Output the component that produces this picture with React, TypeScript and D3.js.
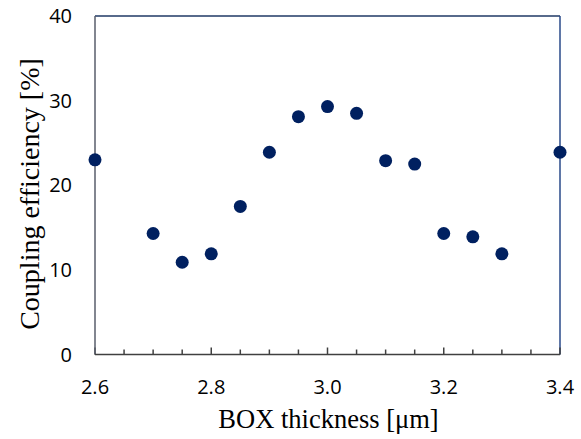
import React from "react";
import * as d3 from "d3";

const thickness = [2.6, 2.7, 2.75, 2.8, 2.85, 2.9, 2.95, 3.0, 3.05, 3.1, 3.15, 3.2, 3.25, 3.3, 3.4];
const efficiency = [23.0, 14.3, 10.9, 11.9, 17.5, 23.9, 28.1, 29.3, 28.5, 22.9, 22.5, 14.3, 13.9, 11.9, 23.9];
const xTicks = [2.6, 2.8, 3.0, 3.2, 3.4];
const yTicks = [0, 10, 20, 30, 40];

const W = 581, H = 439;
const m = { left: 95, right: 560, top: 16, bottom: 354.5 };

export default function App() {
  const x = d3.scaleLinear().domain([2.6, 3.4]).range([m.left, m.right]);
  const y = d3.scaleLinear().domain([0, 40]).range([m.bottom, m.top]);
  const minor = d3.range(0, 17).map((i) => 2.6 + i * 0.05);
  const tickFont = "'Open Sans', sans-serif";
  const titleFont = "'Liberation Serif', 'Times New Roman', serif";
  return (
    <svg width={W} height={H} style={{ position: "absolute", left: 0, top: 0, background: "#fff" }}>
      {/* top & right border */}
      <line x1={m.left} x2={m.right} y1={m.top} y2={m.top} stroke="#1f3864" strokeWidth={1.5} />
      <line x1={m.right} x2={m.right} y1={m.top} y2={m.bottom} stroke="#2a4a8a" strokeWidth={1.5} />
      {/* ticks */}
      {minor.map((t, i) => {
        const major = i % 4 === 0;
        return (
          <line key={i} x1={x(t)} x2={x(t)} y1={m.bottom} y2={m.bottom - (major ? 7 : 5)} stroke="#404040" strokeWidth={1.5} />
        );
      })}
      {/* axes */}
      <line x1={m.left} x2={m.left} y1={m.top} y2={m.bottom} stroke="#595e6b" strokeWidth={1.5} />
      <line x1={m.left} x2={m.right} y1={m.bottom} y2={m.bottom} stroke="#404040" strokeWidth={1.5} />
      {yTicks.map((t) => (
        <text key={t} x={72} y={y(t)} dy="0.35em" textAnchor="end" fontFamily={tickFont} fontSize={20} fill="#000">
          {t}
        </text>
      ))}
      {xTicks.map((t) => (
        <text key={t} x={x(t)} y={394} textAnchor="middle" fontFamily={tickFont} fontSize={20} fill="#000">
          {t.toFixed(1)}
        </text>
      ))}
      {thickness.map((t, i) => (
        <circle key={i} cx={x(t)} cy={y(efficiency[i])} r={6.5} fill="#002060" />
      ))}
      <text x={(m.left + m.right) / 2 + 1} y={428} textAnchor="middle" fontFamily={titleFont} fontSize={26.5} fill="#000">
        BOX thickness [μm]
      </text>
      <text transform={`translate(39,194) rotate(-90)`} textAnchor="middle" fontFamily={titleFont} fontSize={28} fill="#000">
        Coupling efficiency [%]
      </text>
    </svg>
  );
}
